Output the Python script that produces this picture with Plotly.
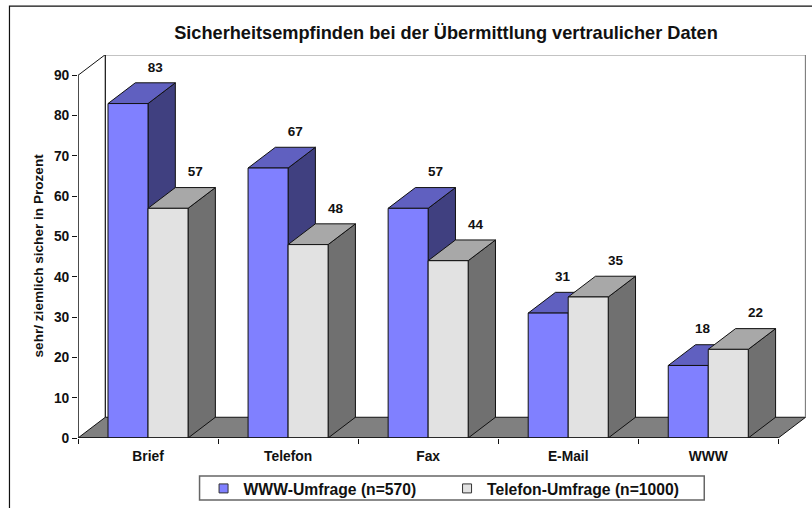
import plotly.graph_objects as go

categories = ["Brief", "Telefon", "Fax", "E-Mail", "WWW"]
www_values = [83, 67, 57, 31, 18]
telefon_values = [57, 48, 44, 35, 22]
y_ticks = [0, 10, 20, 30, 40, 50, 60, 70, 80, 90]
series_names = ["WWW-Umfrage (n=570)", "Telefon-Umfrage (n=1000)"]
title_text = "Sicherheitsempfinden bei der Übermittlung vertraulicher Daten"
y_title = "sehr/ ziemlich sicher in Prozent"

W, H = 812, 508
L, R, T, B = 78.0, 805.7, 54.5, 438.5
CAT_PX = 140.0
PX_PER_UNIT = 4.04
DX = 27.3 / CAT_PX
DY = 20.8 / PX_PER_UNIT
BAR = 40.0 / CAT_PX
LABEL_UP = 35.5 / PX_PER_UNIT
LABEL_LEFT = 13.0 / CAT_PX
FONT = "Liberation Sans, Arial, sans-serif"
INK = "#111111"


def px_x(p):
    return (p - L) / (R - L)


def px_y(p):
    return (B - p) / (B - T)


fig = go.Figure()


def poly(xs, ys, fill, line=INK, width=1.0):
    fig.add_trace(go.Scatter(
        x=xs + xs[:1], y=ys + ys[:1], mode="lines", fill="toself", fillcolor=fill,
        line=dict(color=line, width=width), hoverinfo="skip", showlegend=False,
        cliponaxis=False))


def seg(xs, ys, color=INK, width=1.0):
    fig.add_trace(go.Scatter(
        x=xs, y=ys, mode="lines", line=dict(color=color, width=width),
        hoverinfo="skip", showlegend=False, cliponaxis=False))


n = len(categories)
poly([0, n, n + DX, DX], [0, 0, DY, DY], "#808080")
seg([DX, DX, n + DX], [DY, 90 + DY, 90 + DY], INK, 1.2)
seg([0, DX], [90, 90 + DY], INK, 1.0)
seg([n + DX, n + DX], [DY, 90 + DY], "#808080", 1.5)

styles = [
    ("#8080FF", "#6060C0", "#404080"),
    ("#E2E2E2", "#A8A8A8", "#707070"),
]
label_x, label_y, label_t = [], [], []
for i in range(n):
    for s, vals in enumerate([www_values, telefon_values]):
        v = vals[i]
        x0 = i + 0.5 - BAR + s * BAR
        x1 = x0 + BAR
        front, top, side = styles[s]
        poly([x1, x1 + DX, x1 + DX, x1], [0, DY, v + DY, v], side)
        poly([x0, x1, x1 + DX, x0 + DX], [v, v, v + DY, v + DY], top)
        poly([x0, x1, x1, x0], [0, 0, v, v], front)
        hidden = s == 0 and telefon_values[i] > v
        label_x.append((x0 + x1) / 2 + DX - (LABEL_LEFT if hidden else 0))
        label_y.append(v + LABEL_UP)
        label_t.append(str(v))

fig.add_trace(go.Scatter(
    x=label_x, y=label_y, text=label_t, mode="text", textposition="middle center",
    textfont=dict(family=FONT, size=13.5, color="#111111", weight="bold"),
    hoverinfo="skip", showlegend=False, cliponaxis=False))

seg([0, 0], [0, 90], INK, 1.5)
seg([0, n], [0, 0], INK, 1.5)

for name, (front, _, _) in zip(series_names, styles):
    fig.add_trace(go.Scatter(
        x=[None], y=[None], mode="markers", name=name,
        marker=dict(symbol="square", size=9, color=front,
                    line=dict(color="#333333", width=1))))

fig.update_layout(
    width=W, height=H,
    margin=dict(l=L, r=W - R, t=T, b=H - B, pad=0, autoexpand=False),
    paper_bgcolor="white", plot_bgcolor="white",
    title=dict(text=title_text, x=446 / W, xanchor="center", y=1 - 32.5 / H, yanchor="middle",
               font=dict(family=FONT, size=18.2, color="#111111", weight="bold")),
    font=dict(family=FONT, color="#111111", size=13, weight="bold"),
    xaxis=dict(
        range=[0, (R - L) / CAT_PX], tickmode="array",
        tickvals=[i + 0.5 for i in range(n)], ticktext=categories,
        ticks="", showgrid=False, zeroline=False, showline=False, fixedrange=True,
        tickfont=dict(family=FONT, size=13.8, color="#111111", weight="bold"),
        ticklabelstandoff=8,
        minor=dict(tickmode="array", tickvals=list(range(n + 1)), ticks="outside",
                   ticklen=5, tickwidth=1.2, tickcolor=INK, showgrid=False),
    ),
    yaxis=dict(
        range=[0, (B - T) / PX_PER_UNIT],
        tickmode="array", tickvals=y_ticks, ticks="outside", ticklen=5, tickwidth=1.2,
        tickcolor=INK, showgrid=False, zeroline=False, showline=False, fixedrange=True,
        tickfont=dict(family=FONT, size=13.8, color="#111111", weight="bold"),
    ),
    legend=dict(
        orientation="h", x=px_x(203.5), y=px_y(472.3), xanchor="left", yanchor="top",
        bgcolor="rgba(0,0,0,0)", borderwidth=0,
        font=dict(family=FONT, size=15.7, color="#111111", weight="bold"),
        itemwidth=30, itemclick=False, itemdoubleclick=False,
        entrywidth=198.5, entrywidthmode="pixels",
    ),
    annotations=[dict(text=y_title, xref="paper", yref="paper", x=px_x(38.5), y=px_y(255),
                      xanchor="center", yanchor="middle", textangle=-90, showarrow=False,
                      font=dict(family=FONT, size=13.6, color="#111111", weight="bold"))],
    shapes=[
        dict(type="rect", xref="paper", yref="paper", layer="below",
             x0=px_x(9.5), x1=px_x(830), y0=px_y(530), y1=px_y(5.5),
             line=dict(color=INK, width=1.2), fillcolor="white"),
        dict(type="rect", xref="paper", yref="paper", layer="below",
             x0=px_x(199.5), x1=px_x(704), y0=px_y(500.7), y1=px_y(476.7),
             line=dict(color="#666666", width=1.5), fillcolor="white"),
    ],
    showlegend=True,
)
fig.write_html("out.html", config={"displayModeBar": False},
               post_script="document.body.style.margin='0';")
